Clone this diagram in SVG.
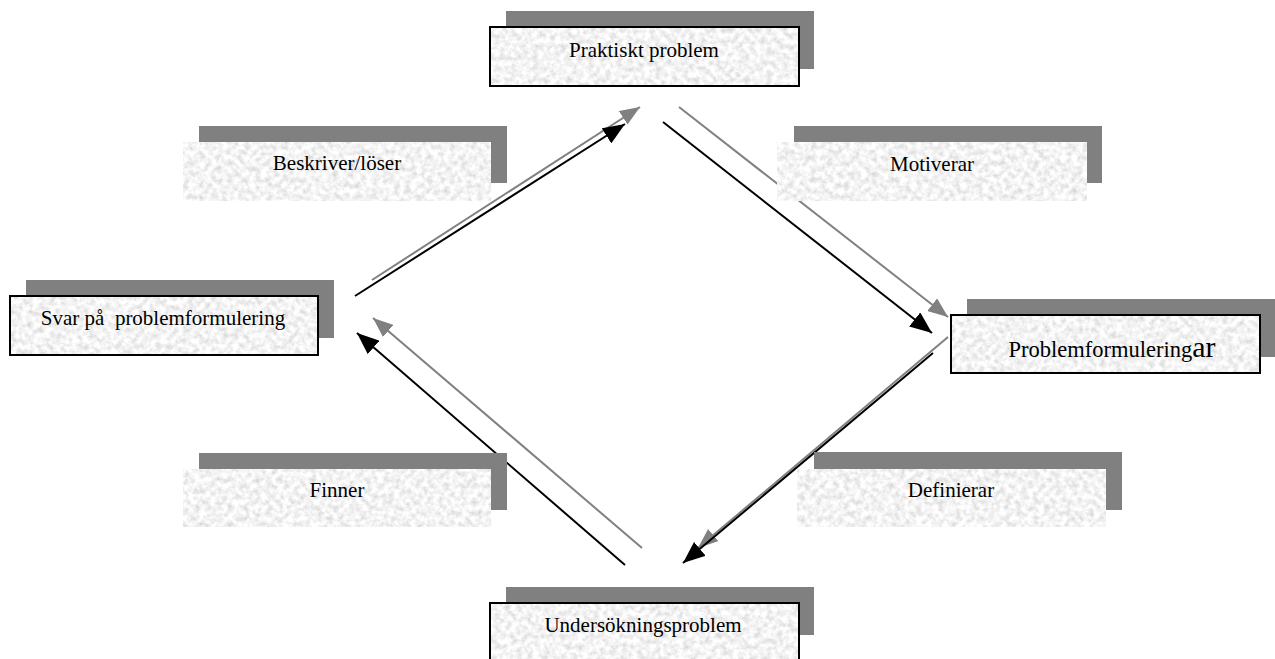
<svg xmlns="http://www.w3.org/2000/svg" width="1275" height="659" viewBox="0 0 1275 659">
<style>
.shadow{fill:#808080}
.t{font-family:"Liberation Serif","Times New Roman",serif;font-size:21px;fill:#000;text-anchor:middle}
.blk{stroke:#000;stroke-width:2;fill:none}
.gry{stroke:#808080;stroke-width:2;fill:none}
.tex{fill:#ddd;filter:url(#tex)}
.frame{fill:none;stroke:#000;stroke-width:2}
</style>
<defs>
<filter id="tex" x="0" y="0" width="100%" height="100%">
<feTurbulence type="fractalNoise" baseFrequency="0.18" numOctaves="3" seed="7" result="n"/>
<feColorMatrix in="n" type="matrix" values="0.6 0 0 0 0.6  0.6 0 0 0 0.6  0.6 0 0 0 0.6  0 0 0 0 1" result="g"/>
<feComposite in="g" in2="SourceGraphic" operator="in"/>
</filter>
<marker id="ab" markerUnits="userSpaceOnUse" markerWidth="24" markerHeight="18" refX="22" refY="9" orient="auto">
<path d="M0,0 L22,9 L0,18 z" fill="#000"/>
</marker>
<marker id="ag" markerUnits="userSpaceOnUse" markerWidth="22" markerHeight="16" refX="20" refY="8" orient="auto">
<path d="M0,0 L20,8 L0,16 z" fill="#808080"/>
</marker>
</defs>
<rect width="1275" height="659" fill="#fff"/>

<g id="connectors">
<line class="gry" x1="372" y1="280" x2="640" y2="107" marker-end="url(#ag)"/>
<line class="blk" x1="355" y1="296" x2="625" y2="124" marker-end="url(#ab)"/>
<line class="gry" x1="679" y1="107" x2="948" y2="317" marker-end="url(#ag)"/>
<line class="blk" x1="663" y1="122" x2="932" y2="333" marker-end="url(#ab)"/>
<line class="gry" x1="948" y1="337" x2="698" y2="548" marker-end="url(#ag)"/>
<line class="blk" x1="933" y1="353" x2="683" y2="563" marker-end="url(#ab)"/>
<line class="gry" x1="642" y1="548" x2="373" y2="318" marker-end="url(#ag)"/>
<line class="blk" x1="625" y1="565" x2="357" y2="333" marker-end="url(#ab)"/>
</g>

<g id="praktiskt">
<rect class="shadow" x="506" y="11" width="308" height="58"/>
<rect class="tex" x="490" y="27" width="309" height="59"/>
<rect class="frame" x="490" y="27" width="309" height="59"/>
<text class="t" x="644" y="57">Praktiskt problem</text>
</g>

<g id="beskriver">
<rect class="shadow" x="199" y="126" width="308" height="57"/>
<rect class="tex" x="183" y="142" width="308" height="59"/>
<text class="t" x="337" y="170">Beskriver/löser</text>
</g>

<g id="motiverar">
<rect class="shadow" x="794" y="126" width="308" height="57"/>
<rect class="tex" x="777" y="142" width="310" height="59"/>
<text class="t" x="932" y="171">Motiverar</text>
</g>

<g id="svar">
<rect class="shadow" x="26" y="280" width="308" height="58"/>
<rect class="tex" x="10" y="296" width="308" height="59"/>
<rect class="frame" x="10" y="296" width="308" height="59"/>
<text class="t" x="163" y="325" xml:space="preserve">Svar på  problemformulering</text>
</g>

<g id="problemformuleringar">
<rect class="shadow" x="967" y="299" width="308" height="58"/>
<rect class="tex" x="951" y="315" width="309" height="58"/>
<rect class="frame" x="951" y="315" width="309" height="58"/>
<text class="t" x="1112" y="357" style="font-size:22.5px">Problemformulering<tspan style="font-size:30px">ar</tspan></text>
</g>

<g id="finner">
<rect class="shadow" x="199" y="453" width="308" height="57"/>
<rect class="tex" x="183" y="469" width="308" height="58"/>
<text class="t" x="337" y="497">Finner</text>
</g>

<g id="definierar">
<rect class="shadow" x="814" y="452" width="308" height="58"/>
<rect class="tex" x="797" y="469" width="309" height="58"/>
<text class="t" x="951" y="497">Definierar</text>
</g>

<g id="undersokning">
<rect class="shadow" x="506" y="587" width="308" height="48"/>
<rect class="tex" x="490" y="603" width="309" height="70"/>
<rect class="frame" x="490" y="603" width="309" height="70"/>
<text class="t" x="643" y="632">Undersökningsproblem</text>
</g>
</svg>
